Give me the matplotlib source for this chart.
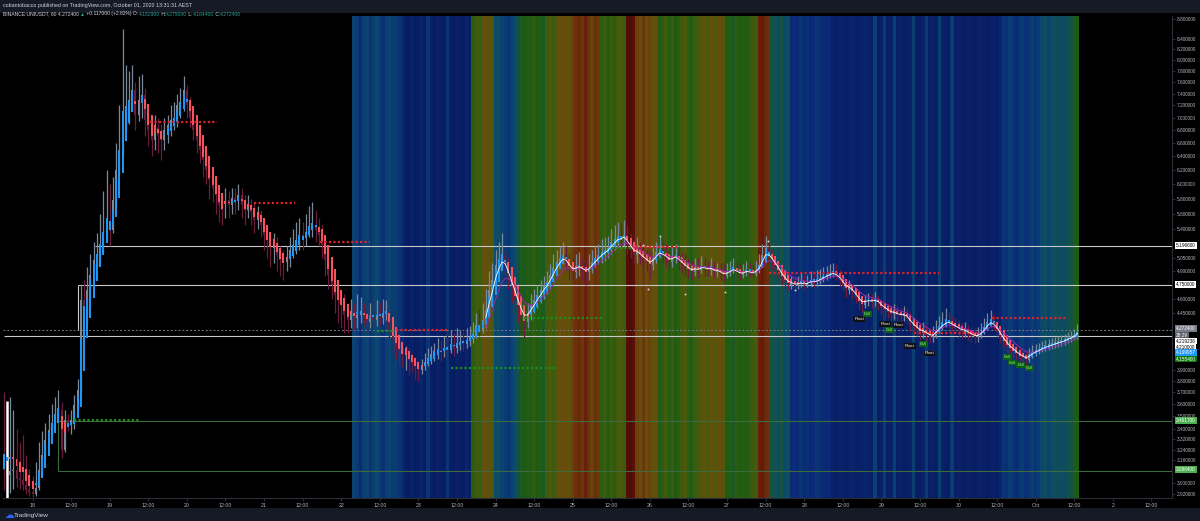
import numpy as np
import pandas as pd
import matplotlib
matplotlib.use("Agg")
import matplotlib.pyplot as plt
from matplotlib.colors import LinearSegmentedColormap
from matplotlib.transforms import blended_transform_factory
from matplotlib.ticker import NullLocator

plt.rcParams["font.family"] = ["Liberation Sans", "DejaVu Sans"]

# BINANCE:UNIUSDT 60 min candles, Sep 17 15:00 -> Oct 1 13:00 (one value per hour)
open_first = 3.10
close = [3.09, 3.055, 3.08, 3.09, 3.03, 3.02, 2.985, 2.95, 2.94, 2.925,
         2.965, 3.09, 3.20, 3.31, 3.39, 3.45, 3.52, 3.55, 3.24, 3.47,
         3.43, 3.47, 3.59, 3.72, 4.585, 4.38, 4.69, 4.86, 5.03, 5.09,
         5.21, 5.27, 5.46, 5.39, 5.78, 6.20, 6.49, 6.96, 7.13, 7.29,
         7.46, 7.04, 7.29, 7.38, 6.96, 6.80, 6.65, 6.83, 6.72, 6.65,
         6.80, 6.88, 6.96, 6.99, 7.21, 7.29, 7.46, 7.21, 6.99, 6.80,
         6.65, 6.49, 6.35, 6.20, 6.06, 5.95, 5.85, 5.72, 5.65, 5.78,
         5.72, 5.81, 5.78, 5.85, 5.72, 5.65, 5.72, 5.62, 5.52, 5.58,
         5.46, 5.33, 5.27, 5.17, 5.21, 5.09, 5.03, 5.01, 5.05, 5.15,
         5.21, 5.27, 5.33, 5.29, 5.37, 5.42, 5.46, 5.39, 5.33, 5.21,
         5.03, 4.86, 4.75, 4.64, 4.585, 4.53, 4.43, 4.38, 4.46, 4.40,
         4.43, 4.46, 4.40, 4.36, 4.40, 4.38, 4.42, 4.40, 4.44, 4.46,
         4.28, 4.18, 4.13, 4.08, 4.04, 4.07, 3.99, 3.97, 3.93, 3.90,
         3.94, 3.97, 4.01, 4.04, 4.07, 4.08, 4.07, 4.10, 4.08, 4.13,
         4.10, 4.13, 4.16, 4.14, 4.18, 4.20, 4.23, 4.33, 4.28, 4.38,
         4.48, 4.69, 4.80, 4.97, 5.03, 5.09, 4.97, 4.80, 4.69, 4.585,
         4.48, 4.40, 4.36, 4.43, 4.53, 4.585, 4.64, 4.69, 4.75, 4.78,
         4.86, 4.94, 5.01, 5.05, 5.09, 5.01, 4.915, 4.89, 4.94, 4.97,
         4.915, 4.89, 4.94, 5.01, 5.05, 5.09, 5.12, 5.15, 5.17, 5.24,
         5.27, 5.32, 5.29, 5.33, 5.21, 5.15, 5.09, 5.12, 5.07, 5.03,
         5.01, 4.97, 5.05, 5.12, 5.15, 5.09, 5.05, 5.01, 5.05, 5.09,
         5.01, 4.97, 4.94, 4.915, 4.89, 4.94, 4.915, 4.96, 4.94, 4.915,
         4.94, 4.89, 4.915, 4.87, 4.85, 4.89, 4.915, 4.94, 4.89, 4.86,
         4.88, 4.915, 4.89, 4.87, 4.915, 4.97, 5.09, 5.17, 5.09, 5.01,
         4.94, 4.89, 4.82, 4.78, 4.75, 4.76, 4.74, 4.76, 4.78, 4.75,
         4.77, 4.80, 4.78, 4.80, 4.82, 4.85, 4.86, 4.88, 4.89, 4.85,
         4.80, 4.74, 4.69, 4.71, 4.67, 4.61, 4.56, 4.53, 4.57, 4.585,
         4.57, 4.585, 4.56, 4.50, 4.48, 4.46, 4.44, 4.45, 4.43, 4.42,
         4.43, 4.40, 4.33, 4.30, 4.28, 4.25, 4.26, 4.23, 4.21, 4.22,
         4.28, 4.32, 4.35, 4.37, 4.36, 4.32, 4.30, 4.28, 4.26, 4.27,
         4.24, 4.22, 4.21, 4.22, 4.26, 4.31, 4.36, 4.38, 4.32, 4.26,
         4.20, 4.15, 4.12, 4.08, 4.07, 4.04, 4.02, 4.01, 3.99, 4.04,
         4.07, 4.08, 4.09, 4.11, 4.12, 4.13, 4.14, 4.15, 4.16, 4.17,
         4.18, 4.20, 4.21, 4.23, 4.2724]
high = [3.70, 3.60, 3.66, 3.55, 3.40, 3.30, 3.35, 3.20, 3.10, 3.05,
        3.15, 3.30, 3.38, 3.45, 3.52, 3.60, 3.66, 3.72, 3.62, 3.55,
        3.52, 3.55, 3.68, 3.82, 4.75, 4.80, 4.95, 5.10, 5.25, 5.35,
        5.60, 5.90, 6.20, 6.00, 6.10, 6.60, 7.20, 8.60, 7.90, 7.80,
        7.90, 7.60, 7.70, 7.75, 7.50, 7.20, 7.00, 7.05, 7.00, 6.90,
        7.00, 7.05, 7.20, 7.25, 7.40, 7.50, 7.70, 7.55, 7.35, 7.10,
        6.95, 6.80, 6.60, 6.45, 6.30, 6.20, 6.05, 5.95, 5.85, 5.95,
        5.90, 5.95, 5.95, 6.00, 5.95, 5.85, 5.85, 5.80, 5.75, 5.70,
        5.65, 5.55, 5.45, 5.35, 5.35, 5.30, 5.20, 5.15, 5.20, 5.30,
        5.40, 5.50, 5.55, 5.50, 5.60, 5.70, 5.75, 5.65, 5.55, 5.45,
        5.30, 5.10, 4.95, 4.85, 4.75, 4.70, 4.65, 4.55, 4.60, 4.55,
        4.65, 4.62, 4.55, 4.52, 4.55, 4.60, 4.58, 4.56, 4.60, 4.58,
        4.50, 4.35, 4.28, 4.22, 4.15, 4.12, 4.10, 4.05, 4.02, 3.98,
        4.00, 4.05, 4.10, 4.12, 4.15, 4.20, 4.18, 4.22, 4.25, 4.28,
        4.25, 4.30, 4.28, 4.26, 4.30, 4.32, 4.36, 4.45, 4.48, 4.55,
        4.70, 4.90, 5.00, 5.15, 5.25, 5.35, 5.15, 5.05, 4.90, 4.80,
        4.70, 4.60, 4.50, 4.55, 4.65, 4.70, 4.75, 4.80, 4.85, 4.90,
        4.98, 5.10, 5.15, 5.20, 5.25, 5.20, 5.10, 5.05, 5.10, 5.12,
        5.05, 5.02, 5.10, 5.15, 5.20, 5.22, 5.28, 5.30, 5.32, 5.40,
        5.45, 5.50, 5.48, 5.52, 5.45, 5.35, 5.28, 5.30, 5.25, 5.20,
        5.15, 5.12, 5.20, 5.25, 5.30, 5.25, 5.22, 5.15, 5.20, 5.22,
        5.20, 5.12, 5.10, 5.05, 5.02, 5.05, 5.05, 5.08, 5.05, 5.02,
        5.05, 5.02, 5.00, 5.00, 4.98, 5.00, 5.02, 5.05, 5.02, 4.98,
        4.98, 5.02, 5.00, 4.98, 5.02, 5.10, 5.22, 5.32, 5.25, 5.15,
        5.05, 5.00, 4.95, 4.90, 4.88, 4.85, 4.86, 4.85, 4.88, 4.86,
        4.86, 4.90, 4.90, 4.92, 4.93, 4.95, 4.96, 4.98, 5.00, 4.98,
        4.92, 4.86, 4.80, 4.80, 4.76, 4.72, 4.66, 4.62, 4.64, 4.66,
        4.65, 4.67, 4.64, 4.60, 4.57, 4.55, 4.53, 4.54, 4.52, 4.50,
        4.52, 4.50, 4.46, 4.40, 4.38, 4.34, 4.36, 4.33, 4.30, 4.32,
        4.38, 4.42, 4.46, 4.50, 4.46, 4.42, 4.40, 4.38, 4.35, 4.36,
        4.33, 4.31, 4.30, 4.31, 4.35, 4.40, 4.45, 4.48, 4.44, 4.36,
        4.30, 4.24, 4.20, 4.17, 4.14, 4.12, 4.10, 4.08, 4.06, 4.10,
        4.13, 4.14, 4.15, 4.17, 4.18, 4.19, 4.20, 4.21, 4.22, 4.23,
        4.24, 4.26, 4.27, 4.29, 4.34]
low = [2.95, 3.00, 2.93, 2.96, 2.97, 2.96, 2.95, 2.92, 2.91, 2.90,
       2.91, 2.95, 3.05, 3.18, 3.28, 3.35, 3.45, 3.48, 3.18, 3.22,
       3.38, 3.36, 3.40, 3.55, 3.70, 4.30, 4.35, 4.60, 4.80, 4.95,
       5.00, 5.10, 5.25, 5.20, 5.35, 5.70, 6.10, 6.40, 6.80, 6.90,
       7.10, 6.80, 6.95, 7.00, 6.70, 6.55, 6.40, 6.50, 6.45, 6.35,
       6.50, 6.60, 6.70, 6.80, 6.85, 7.00, 7.10, 7.00, 6.85, 6.65,
       6.45, 6.30, 6.10, 6.00, 5.80, 5.75, 5.60, 5.50, 5.45, 5.55,
       5.55, 5.60, 5.60, 5.65, 5.55, 5.45, 5.55, 5.45, 5.35, 5.40,
       5.30, 5.15, 5.05, 4.95, 5.00, 4.90, 4.85, 4.80, 4.90, 4.95,
       5.05, 5.10, 5.15, 5.15, 5.20, 5.30, 5.30, 5.25, 5.20, 5.05,
       4.85, 4.70, 4.60, 4.45, 4.35, 4.30, 4.25, 4.25, 4.30, 4.28,
       4.30, 4.35, 4.32, 4.25, 4.30, 4.30, 4.32, 4.33, 4.34, 4.38,
       4.20, 4.05, 4.00, 3.95, 3.92, 3.90, 3.85, 3.88, 3.82, 3.80,
       3.86, 3.90, 3.93, 3.95, 3.98, 4.00, 3.98, 4.02, 4.00, 4.05,
       4.03, 4.05, 4.08, 4.07, 4.10, 4.12, 4.15, 4.20, 4.22, 4.25,
       4.30, 4.40, 4.60, 4.75, 4.90, 4.95, 4.85, 4.70, 4.55, 4.45,
       4.35, 4.25, 4.20, 4.30, 4.38, 4.45, 4.50, 4.55, 4.60, 4.65,
       4.70, 4.80, 4.88, 4.95, 4.98, 4.92, 4.80, 4.78, 4.82, 4.85,
       4.80, 4.75, 4.80, 4.88, 4.95, 4.98, 5.00, 5.02, 5.05, 5.10,
       5.15, 5.18, 5.18, 5.20, 5.10, 5.05, 5.00, 5.00, 4.98, 4.95,
       4.90, 4.82, 4.92, 5.00, 5.05, 5.00, 4.95, 4.92, 4.95, 5.00,
       4.92, 4.88, 4.85, 4.82, 4.80, 4.85, 4.82, 4.88, 4.85, 4.85,
       4.86, 4.82, 4.84, 4.80, 4.78, 4.82, 4.85, 4.88, 4.82, 4.80,
       4.82, 4.85, 4.84, 4.82, 4.85, 4.88, 4.95, 5.05, 5.00, 4.92,
       4.88, 4.82, 4.75, 4.70, 4.68, 4.70, 4.68, 4.70, 4.72, 4.70,
       4.72, 4.74, 4.72, 4.74, 4.76, 4.78, 4.80, 4.82, 4.84, 4.80,
       4.74, 4.68, 4.62, 4.65, 4.60, 4.55, 4.48, 4.46, 4.50, 4.52,
       4.50, 4.52, 4.48, 4.44, 4.42, 4.40, 4.38, 4.39, 4.37, 4.36,
       4.37, 4.34, 4.27, 4.24, 4.22, 4.18, 4.20, 4.17, 4.15, 4.16,
       4.20, 4.25, 4.28, 4.31, 4.30, 4.26, 4.24, 4.22, 4.20, 4.21,
       4.18, 4.16, 4.15, 4.16, 4.20, 4.24, 4.28, 4.32, 4.28, 4.22,
       4.15, 4.10, 4.06, 4.03, 4.01, 3.98, 3.96, 3.95, 3.93, 3.97,
       4.01, 4.03, 4.04, 4.06, 4.07, 4.08, 4.09, 4.10, 4.11, 4.12,
       4.13, 4.15, 4.16, 4.18, 4.19]
first_bar_top = 3.63  # white marker bar at the first candle

# background heat columns (0 = cold/blue ... 1 = hot/dark red), first column at bar 109
heat_start = 109
heat = [0.32, 0.28, 0.2, 0.3, 0.32, 0.25, 0.3, 0.35, 0.3, 0.22, 0.3, 0.32, 0.28, 0.3, 0.25, 0.2,
        0.1, 0.08, 0.12, 0.08, 0.1, 0.15, 0.08, 0.25, 0.1, 0.08, 0.12, 0.1, 0.08, 0.25, 0.1, 0.08, 0.12, 0.1, 0.08, 0.15, 0.1,
        0.55, 0.6, 0.58,
        0.65, 0.7, 0.68, 0.62,
        0.35, 0.38, 0.32,
        0.28, 0.25, 0.3, 0.35, 0.4,
        0.5, 0.48, 0.52, 0.5, 0.55, 0.5, 0.52, 0.48,
        0.6, 0.62, 0.58, 0.65,
        0.7, 0.72, 0.68, 0.7, 0.75,
        0.8, 0.82, 0.78, 0.85, 0.8, 0.75, 0.8, 0.78,
        0.55, 0.6, 0.52, 0.58, 0.55, 0.6, 0.62, 0.58,
        0.95, 0.97, 0.93,
        0.75, 0.72, 0.78, 0.7, 0.75, 0.68, 0.72,
        0.5, 0.55, 0.6, 0.52, 0.58, 0.5, 0.55, 0.6, 0.62, 0.55, 0.5, 0.58, 0.6,
        0.65, 0.68, 0.62, 0.7, 0.65, 0.68, 0.72, 0.65,
        0.5, 0.52, 0.48, 0.55, 0.5, 0.52, 0.5, 0.55, 0.58, 0.6,
        0.85, 0.88, 0.82, 0.8,
        0.42, 0.4, 0.38, 0.42, 0.35, 0.38,
        0.2, 0.22, 0.18, 0.25, 0.2, 0.22, 0.18, 0.2, 0.25, 0.22, 0.2, 0.18, 0.2,
        0.12, 0.1, 0.14, 0.12, 0.1, 0.12, 0.15, 0.12, 0.1, 0.12, 0.14, 0.12,
        0.12, 0.3, 0.1, 0.12, 0.28, 0.1, 0.12, 0.3, 0.1, 0.12, 0.1,
        0.1, 0.12, 0.3, 0.1, 0.08, 0.12, 0.28, 0.1, 0.12, 0.1, 0.3, 0.12, 0.1, 0.08, 0.28, 0.1, 0.12,
        0.1, 0.08, 0.12, 0.1, 0.08, 0.1, 0.12, 0.1, 0.08, 0.1, 0.12, 0.1, 0.15,
        0.25, 0.22, 0.28, 0.25, 0.2, 0.25, 0.28, 0.22, 0.25, 0.3, 0.25, 0.28,
        0.35, 0.38, 0.32, 0.35, 0.4, 0.35, 0.38, 0.36, 0.4, 0.42,
        0.5, 0.5]

# resistance / support dotted levels: start bar, end bar, price
res_start = [45.6, 78, 98.4, 122, 195, 238, 283, 307.5]
res_end = [66.4, 90.7, 114, 138, 210, 291, 303, 330.8]
res_price = [6.93, 5.74, 5.25, 4.28, 5.18, 4.88, 4.25, 4.40]
sup_start = [22, 116, 139, 162, 189]
sup_end = [42.4, 121, 171.5, 186.4, 195]
sup_price = [3.47, 4.27, 3.915, 4.40, 5.17]

# horizontal price lines (with the vertical drop where each one begins)
line_price = [5.1966, 4.75, 4.219236, 3.4617, 3.0864]
line_from = [28.5, 23.2, 0, 17, 17]
line_drop = [5.1966, 4.28, 4.219236, 3.4617, 3.4617]
last_price = 4.2724

# swing point dots
dot_bar = [199.0, 200.4, 204.2, 212.0, 224.4, 237.8, 246.2, 251.5]
dot_price = [5.21, 4.70, 5.32, 4.65, 4.67, 5.26, 4.69, 4.75]

tag_text = ["Pivot", "Bull", "Pivot", "Bull", "Pivot", "Pivot", "Bull", "Pivot", "Bull", "Bull", "Bull", "Bull"]
tag_bar = [266.1, 268.6, 274.2, 275.6, 278.4, 281.9, 286.0, 288.0, 312.1, 313.8, 316.4, 319.0]
tag_price = [4.39, 4.44, 4.34, 4.28, 4.33, 4.12, 4.14, 4.05, 4.02, 3.965, 3.945, 3.915]

tick_vals = [8.8, 8.4, 8.2, 8.0, 7.8, 7.6, 7.4, 7.2, 7.0, 6.8, 6.6, 6.4, 6.2, 6.0, 5.8, 5.6, 5.4,
             5.05, 4.9, 4.6, 4.45, 3.9, 3.8, 3.7, 3.6, 3.5, 3.4, 3.32, 3.24, 3.16, 3.0, 2.92]
days = ["18", "19", "20", "21", "22", "23", "24", "25", "26", "27", "28", "29", "30", "Oct", "2"]

n = len(close)
idx = np.arange(n)
c = np.array(close)
o = np.array([open_first] + close[:-1])
h = np.maximum(np.array(high), np.maximum(o, c))
l = np.minimum(np.array(low), np.minimum(o, c))

# heikin ashi overlay
ha_c = (o + h + l + c) / 4
ha_o = np.zeros(n)
ha_o[0] = (o[0] + c[0]) / 2
for k in range(1, n):
    ha_o[k] = (ha_o[k - 1] + ha_c[k - 1]) / 2

fig = plt.figure(figsize=(12, 5.21), dpi=100)
fig.patch.set_facecolor("#161a25")
W, H = 1200, 521

bg = fig.add_axes([0, 13 / H, 1, (508 - 13) / H])
bg.set_facecolor("black")
bg.set_xticks([])
bg.set_yticks([])
for s in bg.spines.values():
    s.set_visible(False)

ax = fig.add_axes([3 / W, 23 / H, 1169 / W, 482 / H])
ax.set_facecolor("black")
ax.set_yscale("log")
ylo, yhi = 2.896, 8.86
ax.set_ylim(ylo, yhi)
ax.set_xlim(-0.2, 363.4)

cmap = LinearSegmentedColormap.from_list("heat", [
    (0.0, "#061552"), (0.2, "#0a2a78"), (0.35, "#0b4a6e"), (0.5, "#1c5c14"),
    (0.62, "#4a5a0a"), (0.72, "#6a4c0c"), (0.85, "#6a1f0a"), (1.0, "#4a0606")])
hx = heat_start + np.arange(len(heat))
ax.bar(hx, yhi * 1.2 - ylo * 0.8, bottom=ylo * 0.8, width=1.02, color=cmap(np.array(heat)),
       linewidth=0, zorder=0)

# price lines
for p, f, d in zip(line_price, line_from, line_drop):
    col = "#c8c8c8" if p > 4 else "#3d6b3d"
    ax.hlines(p, f, 363.4, colors=col, lw=0.8, zorder=1)
    if d != p:
        ax.vlines(f, min(p, d), max(p, d), colors=col, lw=0.8, zorder=1)
ax.hlines(last_price, -0.2, 363.4, colors="#787b86", lw=0.7, linestyles=(0, (2, 2)), zorder=1)

# real candles
up = c >= o
real_col = np.where(up, "#7a889c", "#6e1c3e")
ax.vlines(idx, l, h, colors=real_col, lw=0.9, zorder=2)
bb = np.minimum(o, c)
bh = np.maximum(np.abs(c - o), bb * 0.004)
ax.bar(idx, bh, bottom=bb, width=0.6, color=real_col, linewidth=0, zorder=2)
ax.vlines(idx[1], ylo, first_bar_top, colors="white", lw=1.8, zorder=3)

# heikin ashi bodies
ha_up = ha_c >= ha_o
ha_col = np.where(ha_up, "#2196f3", "#f7525f")
hb = np.minimum(ha_o, ha_c)
hh = np.maximum(np.abs(ha_c - ha_o), hb * 0.004)
ax.bar(idx, hh, bottom=hb, width=0.62, color=ha_col, linewidth=0, zorder=3)

# fast / slow averages
s = pd.Series(c)
fast = s.ewm(span=3, adjust=False).mean().values
slow = s.ewm(span=8, adjust=False).mean().values
ax.plot(idx[150:], slow[150:], color="#9c27b0", lw=0.7, zorder=4)
ax.plot(idx[150:], fast[150:], color="white", lw=0.6, zorder=5)
ax.scatter(dot_bar, dot_price, s=2, color="#d0d0d0", linewidths=0, zorder=5)

# dotted levels
for a, b, p in zip(res_start, res_end, res_price):
    ax.hlines(p, a, b, colors="#e0202a", lw=1.6, linestyles=(0, (1, 1)), zorder=4)
for a, b, p in zip(sup_start, sup_end, sup_price):
    ax.hlines(p, a, b, colors="#1e8c1e", lw=1.6, linestyles=(0, (1, 1)), zorder=4)

# tags
for t, b, p in zip(tag_text, tag_bar, tag_price):
    if t == "Pivot":
        ax.text(b, p, t, fontsize=3.2, color="white", ha="center", va="center", zorder=6,
                bbox=dict(boxstyle="square,pad=0.2", fc="#111111", ec="none"))
    else:
        ax.text(b, p, t, fontsize=3.2, color="#8be08b", ha="center", va="center", zorder=6,
                bbox=dict(boxstyle="square,pad=0.2", fc="#0d5e12", ec="none"))

# axes styling
for k in ["left", "top"]:
    ax.spines[k].set_visible(False)
for k in ["right", "bottom"]:
    ax.spines[k].set_color("#2a2e39")
    ax.spines[k].set_linewidth(0.8)
ax.yaxis.tick_right()
ax.yaxis.set_minor_locator(NullLocator())
ax.set_yticks(tick_vals)
ax.set_yticklabels(["%.6f" % v for v in tick_vals])
ax.tick_params(axis="y", colors="#2a2e39", labelcolor="#b2b5be", labelsize=3.4, length=2, pad=1.5)

xt = []
xl = []
for d, name in enumerate(days):
    xt += [9 + 24 * d, 21 + 24 * d]
    xl += [name, "12:00"]
ax.set_xticks(xt)
ax.set_xticklabels(xl)
ax.tick_params(axis="x", colors="#2a2e39", labelcolor="#b2b5be", labelsize=3.8, length=2, pad=1.5)

# right axis price boxes
tr = blended_transform_factory(ax.transAxes, ax.transData)
boxes = [("5.196600", 5.20, "white", "black"), ("4.750000", 4.75, "white", "black"),
         ("4.272400", 4.295, "#787b86", "white"), ("28:29", 4.225, "#5d606b", "white"),
         ("4.219236", 4.168, "white", "black"), ("4.210000", 4.11, "white", "black"),
         ("4.199957", 4.055, "#2196f3", "white"), ("4.155400", 3.998, "#0b7a0b", "white"),
         ("3.461700", 3.47, "#4caf50", "white"), ("3.086400", 3.097, "#4caf50", "white")]
for txt, py, fc, tc in boxes:
    ax.text(1.0035, py, txt, transform=tr, fontsize=3.4, color=tc, ha="left", va="center",
            zorder=7, clip_on=False, bbox=dict(boxstyle="square,pad=0.2", fc=fc, ec="none"))

# header
r = fig.canvas.get_renderer()


def seq_text(x, y, parts, size):
    for txt, col in parts:
        t = fig.text(x, y, txt, color=col, fontsize=size, ha="left", va="center")
        x += t.get_window_extent(renderer=r).width / fig.bbox.width


fig.text(3 / W, 1 - 6 / H, "cobantobacco published on TradingView.com, October 01, 2020 13:31:31 AEST",
         color="#d1d4dc", fontsize=3.8, ha="left", va="center")
teal = "#26a69a"
seq_text(3 / W, 1 - 14 / H, [("BINANCE:UNIUSDT, 60 4.272400 ", "#d1d4dc"), ("\u25b2", teal),
                            (" +0.117000 (+2.82%) O:", "#d1d4dc"), ("4.182900", teal), (" H:", "#d1d4dc"),
                            ("4.275000", teal), (" L:", "#d1d4dc"), ("4.164400", teal),
                            (" C:", "#d1d4dc"), ("4.272400", teal)], 3.6)

# footer logo
fig.text(4 / W, 1 - 515 / H, "\u2601", color="#2962ff", fontsize=7, ha="left", va="center")
fig.text(14 / W, 1 - 515 / H, "TradingView", color="#d1d4dc", fontsize=4.6, ha="left", va="center")

fig.savefig("out.png", dpi=100, facecolor=fig.get_facecolor())
